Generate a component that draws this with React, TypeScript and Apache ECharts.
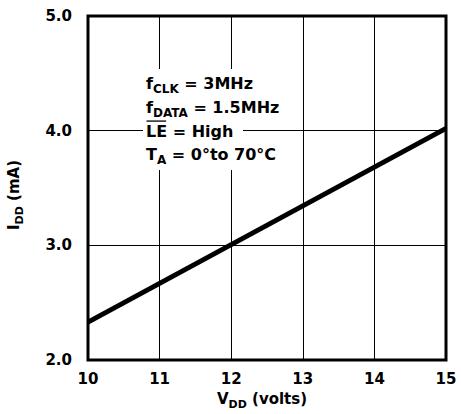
import React, { useEffect, useRef } from 'react';
import * as echarts from 'echarts';

// Supply current vs supply voltage
const vdd = [10, 15];
const idd = [2.33, 4.02];

const xMin = 10;
const xMax = 15;
const yMin = 2;
const yMax = 5;

type Part = { t: string; sub?: boolean; over?: boolean };

const conditions: Part[][] = [
  [{ t: 'f' }, { t: 'CLK', sub: true }, { t: ' = 3MHz' }],
  [{ t: 'f' }, { t: 'DATA', sub: true }, { t: ' = 1.5MHz' }],
  [{ t: 'LE', over: true }, { t: ' = High' }],
  [{ t: 'T' }, { t: 'A', sub: true }, { t: ' = 0°to 70°C' }],
];

const xTitle: Part[] = [{ t: 'V' }, { t: 'DD', sub: true }, { t: ' (volts)' }];
const yTitle: Part[] = [{ t: 'I' }, { t: 'DD', sub: true }, { t: ' (mA)' }];

const FONT = '"DejaVu Sans", "Liberation Sans", Arial, sans-serif';
const TICK = 15;

type Sizes = { base: number; sub: number; drop: number };
const NOTE: Sizes = { base: 16, sub: 12, drop: 6 };
const TITLE: Sizes = { base: 15, sub: 11, drop: 5.5 };

let ctx: CanvasRenderingContext2D | null = null;
function measure(text: string, size: number): number {
  if (!ctx) ctx = document.createElement('canvas').getContext('2d');
  if (!ctx) return text.length * size * 0.6;
  ctx.font = `bold ${size}px ${FONT}`;
  return ctx.measureText(text).width;
}

function partsWidth(parts: Part[], s: Sizes): number {
  return parts.reduce((acc, p) => acc + measure(p.t, p.sub ? s.sub : s.base), 0);
}

function layoutParts(parts: Part[], x0: number, cy: number, s: Sizes): any[] {
  const els: any[] = [];
  let x = x0;
  for (const p of parts) {
    const size = p.sub ? s.sub : s.base;
    const w = measure(p.t, size);
    els.push({
      type: 'text',
      x,
      y: p.sub ? cy + s.drop : cy,
      z: 20,
      style: {
        text: p.t,
        fontSize: size,
        fontWeight: 'bold',
        fontFamily: FONT,
        fill: '#000',
        align: 'left',
        verticalAlign: 'middle',
        textAlign: 'left',
        textVerticalAlign: 'middle',
      },
    });
    if (p.over) {
      const oy = cy - s.base * 0.62;
      els.push({
        type: 'line',
        z: 20,
        shape: { x1: x + 0.5, y1: oy, x2: x + w - 1, y2: oy },
        style: { stroke: '#000', lineWidth: 1.3 },
      });
    }
    x += w;
  }
  return els;
}

export default function App() {
  const ref = useRef<HTMLDivElement>(null);

  useEffect(() => {
    if (!ref.current) return;
    const chart = echarts.init(ref.current, null, { renderer: 'svg' });

    const noteX = 146;
    const noteY = [83, 107, 131, 154];
    const noteEls: any[] = [];
    conditions.forEach((line, i) => {
      noteEls.push(...layoutParts(line, noteX, noteY[i], NOTE));
    });

    const xw = partsWidth(xTitle, TITLE);
    const yw = partsWidth(yTitle, TITLE);

    chart.setOption({
      animation: false,
      backgroundColor: '#fff',
      grid: {
        left: 88,
        right: 15,
        top: 16,
        bottom: 54,
        show: true,
        borderColor: '#000',
        borderWidth: 3,
        backgroundColor: 'transparent',
      },
      xAxis: {
        type: 'value',
        min: xMin,
        max: xMax,
        interval: 1,
        axisLine: { show: false },
        axisTick: { show: false },
        splitLine: { show: true, lineStyle: { color: '#000', width: 1 } },
        axisLabel: {
          color: '#000',
          fontSize: TICK,
          fontWeight: 'bold',
          fontFamily: FONT,
          margin: 11,
        },
      },
      yAxis: {
        type: 'value',
        min: yMin,
        max: yMax,
        interval: 1,
        axisLine: { show: false },
        axisTick: { show: false },
        splitLine: { show: true, lineStyle: { color: '#000', width: 1 } },
        axisLabel: {
          color: '#000',
          fontSize: TICK,
          fontWeight: 'bold',
          fontFamily: FONT,
          margin: 16,
          formatter: (v: number) => v.toFixed(1),
        },
      },
      series: [
        {
          type: 'line',
          data: vdd.map((v, i) => [v, idd[i]]),
          showSymbol: false,
          lineStyle: { color: '#000', width: 5 },
          z: 5,
        },
      ],
      graphic: [
        // white backing behind the test-condition block
        { type: 'rect', z: 15, shape: { x: 143, y: 69, width: 140, height: 55 }, style: { fill: '#fff' } },
        { type: 'rect', z: 15, shape: { x: 143, y: 124, width: 100, height: 18 }, style: { fill: '#fff' } },
        { type: 'rect', z: 15, shape: { x: 143, y: 142, width: 140, height: 28 }, style: { fill: '#fff' } },
        ...noteEls,
        { type: 'group', x: 0, y: 0, children: layoutParts(xTitle, 262 - xw / 2, 399, TITLE) },
        {
          type: 'group',
          x: 14,
          y: 195,
          rotation: Math.PI / 2,
          children: layoutParts(yTitle, -yw / 2, 0, TITLE),
        },
      ],
    });

    return () => chart.dispose();
  }, []);

  return (
    <div
      ref={ref}
      style={{ position: 'fixed', left: 0, top: 0, width: 461, height: 414, background: '#fff' }}
    />
  );
}
